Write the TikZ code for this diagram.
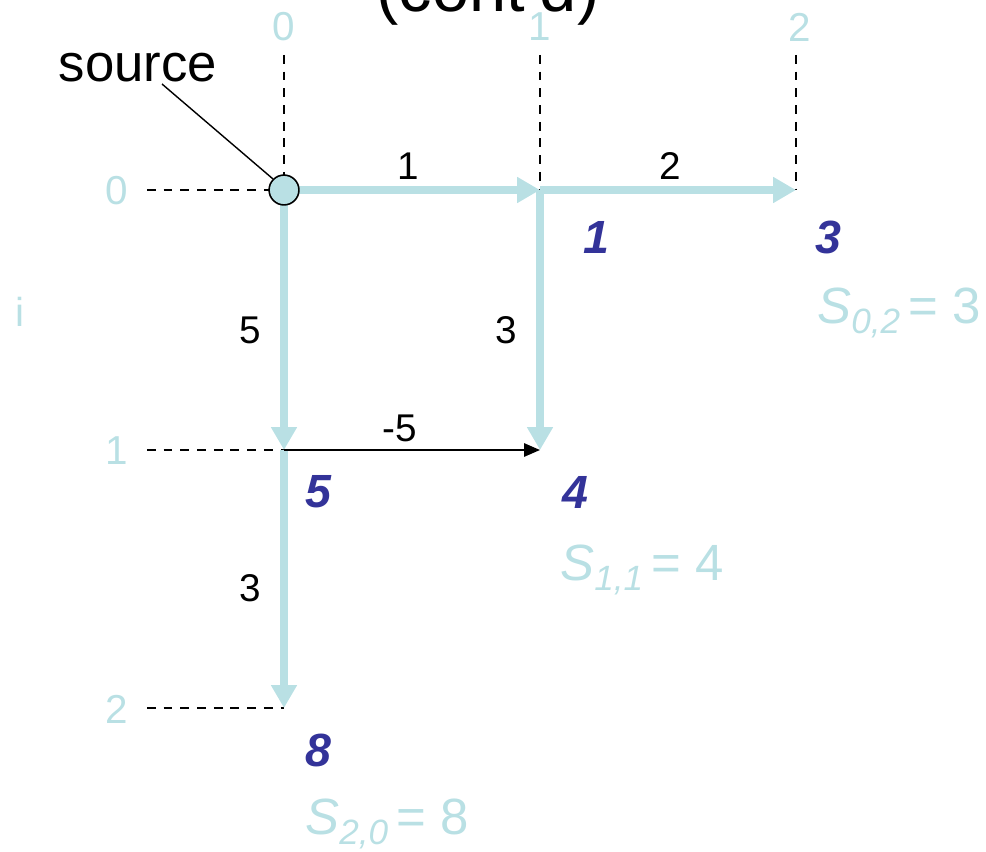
\documentclass[tikz,border=0pt]{standalone}
\usepackage{fontspec}
\setmainfont{Liberation Sans}
\usetikzlibrary{arrows.meta}
\definecolor{lblue}{RGB}{185,224,228}
\definecolor{dblue}{RGB}{51,51,153}
\tikzset{
  gridlab/.style={text=lblue,font=\fontsize{23}{27}\selectfont,inner sep=0pt},
  gridline/.style={black,line width=0.8pt,dash pattern=on 5pt off 4.5pt},
  thickarrow/.style={lblue,line width=4.2pt,-{Triangle[length=13pt,width=14pt]}},
  thinarrow/.style={black,line width=1.1pt,-{Triangle[length=9pt,width=7.5pt]}},
  elab/.style={font=\fontsize{22}{26}\selectfont,inner sep=0pt},
  dist/.style={text=dblue,font=\fontsize{26.5}{30}\selectfont\bfseries\itshape,inner sep=0pt},
  sval/.style={text=lblue,font=\fontsize{29}{34}\selectfont,inner sep=0pt,anchor=base west},
}
\begin{document}
\begin{tikzpicture}[x=0.02cm,y=-0.02cm]
\useasboundingbox (0,0) rectangle (986,851);
% title (cut off)
\node[font=\fontsize{38}{44}\selectfont,inner sep=0pt,anchor=base] (title) at (488,12) {(cont'd)};
% grid points
\coordinate (g00) at (284,190);
\coordinate (g01) at (540,190);
\coordinate (g02) at (796,190);
\coordinate (g10) at (284,450);
\coordinate (g11) at (540,450);
\coordinate (g20) at (284,708);
\coordinate (c0) at (284,55);
\coordinate (c1) at (540,55);
\coordinate (c2) at (796,55);
\coordinate (r0) at (147,190);
\coordinate (r1) at (147,450);
\coordinate (r2) at (147,708);
% labels
\node[gridlab] (cl0) at (284,27) {0};
\node[gridlab] (cl1) at (540,27) {1};
\node[gridlab] (cl2) at (800,27) {2};
\node[gridlab] (rl0) at (117,191) {0};
\node[gridlab] (rl1) at (117,451) {1};
\node[gridlab] (rl2) at (117,709) {2};
\node[gridlab] (ilab) at (20,312) {i};
% dashed lines
\draw[gridline] (c0) -- (g00);
\draw[gridline] (c1) -- (g01);
\draw[gridline] (c2) -- (g02);
\draw[gridline] (r0) -- (g00);
\draw[gridline] (r1) -- (g10);
\draw[gridline] (r2) -- (g20);
% arrows
\draw[thickarrow] (g00) -- (g01);
\draw[thickarrow] (g01) -- (g02);
\draw[thickarrow] (g00) -- (g10);
\draw[thickarrow] (g01) -- (g11);
\draw[thickarrow] (g10) -- (g20);
\draw[thinarrow] (g10) -- (g11);
% source node
\node[circle,draw=black,fill=lblue,line width=0.9pt,minimum size=17pt,inner sep=0pt] (src) at (g00) {};
\node[font=\fontsize{30}{34}\selectfont,inner sep=0pt] (srclab) at (138,68) {source};
\draw[black,line width=0.8pt] (162,84) -- (src.north west);
% edge labels
\node[elab] (e1) at (408,166) {1};
\node[elab] (e2) at (670,166) {2};
\node[elab] (e3) at (250,330) {5};
\node[elab] (e4) at (506,330) {3};
\node[elab] (e5) at (400,428) {-5};
\node[elab] (e6) at (250,588) {3};
% distances
\node[dist] (d01) at (596,237) {1};
\node[dist] (d02) at (828,237) {3};
\node[dist] (d10) at (318,492) {5};
\node[dist] (d11) at (575,492) {4};
\node[dist] (d20) at (318,750) {8};
% S values
\node[sval] (s02) at (817,323) {\textit{S}\raisebox{-0.4ex}{\fontsize{20}{24}\selectfont\textit{0,2}}\,= 3};
\node[sval] (s11) at (560,580) {\textit{S}\raisebox{-0.4ex}{\fontsize{20}{24}\selectfont\textit{1,1}}\,= 4};
\node[sval] (s20) at (305,834) {\textit{S}\raisebox{-0.4ex}{\fontsize{20}{24}\selectfont\textit{2,0}}\,= 8};
\end{tikzpicture}
\end{document}
